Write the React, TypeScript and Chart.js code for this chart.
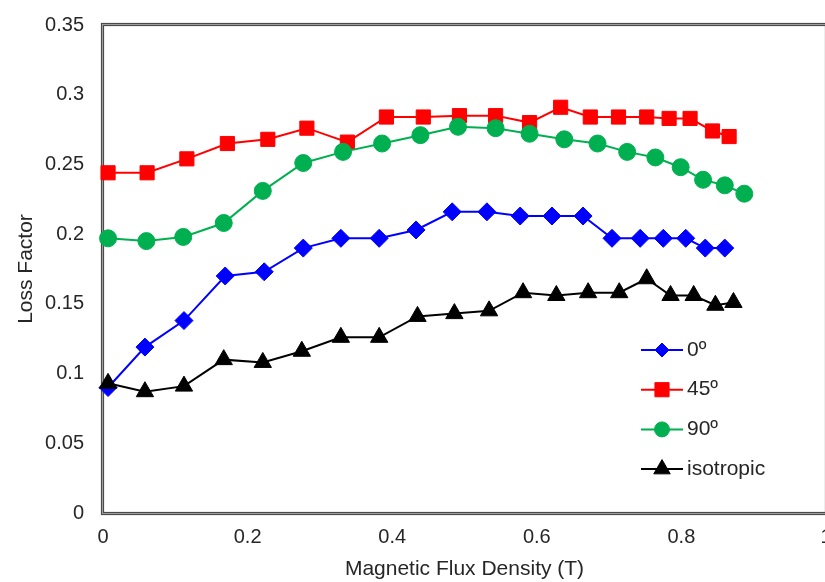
import React, { useEffect, useRef } from 'react';
import { Chart, registerables } from 'chart.js';
import { drawPoint } from 'chart.js/helpers';

Chart.register(...registerables);

const FONT = '"Liberation Sans", Arial, sans-serif';

const seriesLabels = ['0º', '45º', '90º', 'isotropic'];

const deg0X = [0.007, 0.058, 0.112, 0.169, 0.223, 0.277, 0.329, 0.382, 0.433, 0.483, 0.531, 0.577, 0.621, 0.664, 0.704, 0.743, 0.775, 0.806, 0.833, 0.860];
const deg0Y = [0.090, 0.119, 0.138, 0.170, 0.173, 0.190, 0.197, 0.197, 0.203, 0.216, 0.216, 0.213, 0.213, 0.213, 0.197, 0.197, 0.197, 0.197, 0.190, 0.190];

const deg45X = [0.007, 0.061, 0.116, 0.172, 0.228, 0.282, 0.338, 0.392, 0.443, 0.493, 0.543, 0.590, 0.633, 0.674, 0.713, 0.752, 0.783, 0.812, 0.843, 0.866];
const deg45Y = [0.244, 0.244, 0.254, 0.265, 0.268, 0.276, 0.266, 0.284, 0.284, 0.285, 0.285, 0.280, 0.291, 0.284, 0.284, 0.284, 0.283, 0.283, 0.274, 0.270];

const deg90X = [0.007, 0.060, 0.111, 0.167, 0.221, 0.277, 0.332, 0.386, 0.439, 0.491, 0.543, 0.590, 0.638, 0.684, 0.725, 0.764, 0.799, 0.830, 0.860, 0.887];
const deg90Y = [0.197, 0.195, 0.198, 0.208, 0.231, 0.251, 0.259, 0.265, 0.271, 0.277, 0.276, 0.272, 0.268, 0.265, 0.259, 0.255, 0.248, 0.239, 0.235, 0.229];

const isoX = [0.007, 0.058, 0.112, 0.167, 0.221, 0.275, 0.329, 0.382, 0.435, 0.486, 0.534, 0.581, 0.627, 0.671, 0.714, 0.752, 0.785, 0.817, 0.847, 0.872];
const isoY = [0.093, 0.087, 0.091, 0.110, 0.108, 0.116, 0.126, 0.126, 0.141, 0.143, 0.145, 0.158, 0.156, 0.158, 0.158, 0.168, 0.156, 0.156, 0.149, 0.151];

const seriesColors = ['#0000FF', '#FF0000', '#00B050', '#000000'];
const seriesStyles = ['rectRot', 'rect', 'circle', 'triangle'];
const seriesRadii = [9, 10, 8.5, 10];
const legendRadii = [7, 10, 7.5, 9.5];

const toPoints = (xs: number[], ys: number[]) => xs.map((x, i) => ({ x, y: ys[i] }));

const fmt = (v: number | string) => String(Number(Number(v).toFixed(2)));

const framePlugin = {
  id: 'frame',
  beforeDatasetsDraw(chart: any) {
    const { ctx, chartArea } = chart;
    const { left, top, right, bottom } = chartArea;
    const w = right - left;
    const h = bottom - top;
    ctx.save();
    ctx.strokeStyle = '#b4b4b4';
    ctx.lineWidth = 3;
    ctx.strokeRect(left - 0.5, top - 0.5, w + 1, h + 1);
    ctx.strokeStyle = '#4a4a4a';
    ctx.lineWidth = 1.2;
    ctx.strokeRect(left - 1.5, top - 1.5, w + 3, h + 3);
    ctx.strokeRect(left + 0.5, top + 0.5, w - 1, h - 1);
    ctx.restore();
  },
};

const legendPlugin = {
  id: 'boxLegend',
  afterDraw(chart: any) {
    const { ctx, chartArea } = chart;
    const { left, top } = chartArea;
    const x0 = left + 538;
    const x1 = left + 580;
    const tx = left + 584;
    const y0 = top + 325;
    const step = 39.7;
    ctx.save();
    chart.data.datasets.forEach((ds: any, i: number) => {
      const y = y0 + i * step;
      ctx.strokeStyle = ds.borderColor;
      ctx.lineWidth = 2;
      ctx.beginPath();
      ctx.moveTo(x0, y);
      ctx.lineTo(x1, y);
      ctx.stroke();
      ctx.fillStyle = ds.pointBackgroundColor;
      ctx.strokeStyle = ds.pointBorderColor;
      ctx.lineWidth = 1;
      drawPoint(ctx, { pointStyle: ds.pointStyle, radius: legendRadii[i], borderWidth: 1, rotation: 0 } as any, (x0 + x1) / 2, y);
      ctx.fillStyle = '#262626';
      ctx.font = `21px ${FONT}`;
      ctx.textAlign = 'left';
      ctx.textBaseline = 'middle';
      ctx.fillText(ds.label, tx, y);
    });
    ctx.restore();
  },
};

export default function App() {
  const ref = useRef<HTMLCanvasElement>(null);

  useEffect(() => {
    if (!ref.current) return;
    const xs = [deg0X, deg45X, deg90X, isoX];
    const ys = [deg0Y, deg45Y, deg90Y, isoY];
    const datasets = seriesLabels.map((label, i) => ({
      label,
      data: toPoints(xs[i], ys[i]),
      showLine: true,
      borderColor: seriesColors[i],
      backgroundColor: seriesColors[i],
      borderWidth: 2,
      pointStyle: seriesStyles[i],
      pointRadius: seriesRadii[i],
      pointHoverRadius: seriesRadii[i],
      pointBackgroundColor: seriesColors[i],
      pointBorderColor: seriesColors[i],
      pointBorderWidth: 1,
      tension: 0,
      clip: false as any,
      order: 3 - i,
    }));

    const chart = new Chart(ref.current, {
      type: 'scatter',
      data: { datasets: datasets as any },
      options: {
        responsive: false,
        maintainAspectRatio: false,
        animation: false,
        layout: { padding: { left: 0, top: 25, right: 24, bottom: 0 } },
        plugins: {
          legend: { display: false },
          tooltip: { enabled: false },
        },
        scales: {
          x: {
            type: 'linear',
            min: 0,
            max: 1,
            grid: { display: false, drawTicks: false },
            border: { display: false },
            ticks: {
              stepSize: 0.2,
              autoSkip: false,
              maxRotation: 0,
              padding: 12,
              color: '#262626',
              font: { family: FONT, size: 20 },
              callback: (v: any) => fmt(v),
            },
            title: {
              display: true,
              text: 'Magnetic Flux Density (T)',
              color: '#262626',
              font: { family: FONT, size: 21 },
              padding: { top: 0, bottom: 0 },
            },
            afterFit: (s: any) => {
              s.height = 69;
              s.paddingRight = 0;
              s.paddingLeft = 0;
            },
          },
          y: {
            type: 'linear',
            min: 0,
            max: 0.35,
            grid: { display: false, drawTicks: false },
            border: { display: false },
            ticks: {
              stepSize: 0.05,
              padding: 19,
              color: '#262626',
              font: { family: FONT, size: 20 },
              callback: (v: any) => fmt(v),
            },
            title: {
              display: true,
              text: 'Loss Factor',
              color: '#262626',
              font: { family: FONT, size: 21 },
              padding: { top: 14, bottom: 0 },
            },
            afterFit: (s: any) => {
              s.width = 103;
              s.paddingTop = 0;
              s.paddingBottom = 0;
            },
          },
        },
      },
      plugins: [framePlugin, legendPlugin],
    });
    return () => chart.destroy();
  }, []);

  return (
    <div style={{ position: 'fixed', left: 0, top: 0, width: 825, height: 582, overflow: 'hidden', background: '#ffffff' }}>
      <canvas ref={ref} width={850} height={582} style={{ display: 'block' }} />
    </div>
  );
}
